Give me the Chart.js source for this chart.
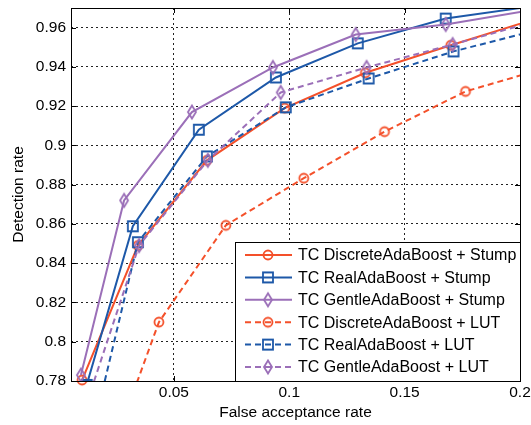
<!DOCTYPE html>
<html>
<head>
<meta charset="utf-8">
<script src="https://cdn.jsdelivr.net/npm/chart.js@4.4.0/dist/chart.umd.min.js"></script>
<style>
  html, body { margin: 0; padding: 0; background: #fff; }
</style>
</head>
<body>
<canvas id="roc" width="531" height="425"></canvas>
<script>
// --- DATA ---
const seriesNames = [
    'TC DiscreteAdaBoost + Stump',
    'TC RealAdaBoost + Stump',
    'TC GentleAdaBoost + Stump',
    'TC DiscreteAdaBoost + LUT',
    'TC RealAdaBoost + LUT',
    'TC GentleAdaBoost + LUT'
];

const discreteStumpX = [0.0102, 0.0344, 0.0643, 0.098, 0.133, 0.170, 0.205];
const discreteStumpY = [0.7805, 0.849, 0.8924, 0.919, 0.937, 0.951, 0.9638];

const realStumpX = [0.0122, 0.0322, 0.0608, 0.0942, 0.1297, 0.1678, 0.205];
const realStumpY = [0.778, 0.8588, 0.908, 0.9346, 0.952, 0.9646, 0.9708];

const gentleStumpX = [0.0097, 0.0284, 0.0578, 0.0929, 0.1288, 0.1678, 0.205];
const gentleStumpY = [0.783, 0.872, 0.917, 0.9397, 0.9565, 0.9616, 0.969];

const discreteLutX = [0.028, 0.0435, 0.0725, 0.1063, 0.1413, 0.1764, 0.205];
const discreteLutY = [0.76, 0.810, 0.8593, 0.8833, 0.907, 0.9275, 0.9373];

const realLutX = [0.018, 0.0344, 0.0643, 0.0985, 0.1344, 0.1712, 0.205];
const realLutY = [0.77, 0.8507, 0.8944, 0.9194, 0.9341, 0.9479, 0.958];

const gentleLutX = [0.014, 0.0349, 0.0647, 0.0963, 0.1335, 0.1708, 0.205];
const gentleLutY = [0.775, 0.849, 0.8924, 0.927, 0.9397, 0.9514, 0.9626];

const xTicks = [0.05, 0.1, 0.15, 0.2];
const yTicks = [0.78, 0.8, 0.82, 0.84, 0.86, 0.88, 0.9, 0.92, 0.94, 0.96];

// --- STYLE ---
const ORANGE = '#f4502a';
const BLUE = '#1d58a8';
const PURPLE = '#9b6fb8';
const FONT = { family: '"Liberation Sans", Arial, Helvetica, sans-serif', size: 15.5, lineHeight: 1.2 };
const LEGEND_FONT_SIZE = 16;

// hollow markers drawn once into small canvases (MATLAB style, no fill)
function makeMarker(shape, color) {
    const c = document.createElement('canvas');
    c.width = 16; c.height = 18;
    const g = c.getContext('2d');
    g.strokeStyle = color;
    g.lineWidth = 1.8;
    g.beginPath();
    if (shape === 'o') {
        g.arc(8, 9, 4.5, 0, Math.PI * 2);
    } else if (shape === 's') {
        g.rect(3, 4, 10, 10);
    } else {
        g.moveTo(8, 2.5); g.lineTo(12, 9); g.lineTo(8, 15.5); g.lineTo(4, 9); g.closePath();
    }
    g.stroke();
    return c;
}

const styles = [
    { color: ORANGE, marker: makeMarker('o', ORANGE), dash: [] },
    { color: BLUE, marker: makeMarker('s', BLUE), dash: [] },
    { color: PURPLE, marker: makeMarker('d', PURPLE), dash: [] },
    { color: ORANGE, marker: makeMarker('o', ORANGE), dash: [6, 4] },
    { color: BLUE, marker: makeMarker('s', BLUE), dash: [6, 4] },
    { color: PURPLE, marker: makeMarker('d', PURPLE), dash: [6, 4] }
];

const allX = [discreteStumpX, realStumpX, gentleStumpX, discreteLutX, realLutX, gentleLutX];
const allY = [discreteStumpY, realStumpY, gentleStumpY, discreteLutY, realLutY, gentleLutY];

const datasets = seriesNames.map((name, i) => ({
    label: name,
    data: allX[i].map((x, j) => ({ x: x, y: allY[i][j] })),
    borderColor: styles[i].color,
    borderWidth: 2,
    borderDash: styles[i].dash,
    pointStyle: styles[i].marker,
    pointRadius: 6,
    tension: 0,
    fill: false,
    // first series: its bottom marker sits on the axis and spills a little below it
    clip: i === 0 ? { left: 0, top: 0, right: 0, bottom: 6 } : 0,
    order: seriesNames.length - i   // later series on top, like MATLAB
}));

// box, inward ticks and the legend inside the axes
const matlabAxes = {
    id: 'matlabAxes',
    afterDatasetsDraw(chart) {
        const { ctx, chartArea: a, scales } = chart;
        ctx.save();
        ctx.strokeStyle = '#000';
        ctx.lineWidth = 1;
        ctx.setLineDash([]);
        ctx.beginPath();
        xTicks.forEach(v => {
            const px = Math.round(scales.x.getPixelForValue(v)) + 0.5;
            ctx.moveTo(px, a.bottom); ctx.lineTo(px, a.bottom - 5);
            ctx.moveTo(px, a.top); ctx.lineTo(px, a.top + 5);
        });
        yTicks.forEach(v => {
            const py = Math.round(scales.y.getPixelForValue(v)) + 0.5;
            ctx.moveTo(a.left, py); ctx.lineTo(a.left + 5, py);
            ctx.moveTo(a.right, py); ctx.lineTo(a.right - 5, py);
        });
        ctx.stroke();
        ctx.strokeRect(a.left + 0.5, a.top + 0.5, a.right - a.left, a.bottom - a.top);

        // legend
        const lx = 235, ly = 242;
        ctx.fillStyle = '#fff';
        ctx.fillRect(lx, ly, a.right - lx, a.bottom - ly);
        ctx.strokeRect(lx + 0.5, ly + 0.5, a.right - lx, a.bottom - ly);
        ctx.font = LEGEND_FONT_SIZE + 'px ' + FONT.family;
        ctx.textBaseline = 'middle';
        datasets.forEach((ds, i) => {
            const y = 255 + i * 22.4;
            ctx.strokeStyle = ds.borderColor;
            ctx.lineWidth = 2;
            ctx.setLineDash(ds.borderDash);
            ctx.beginPath();
            ctx.moveTo(245, y); ctx.lineTo(292, y);
            ctx.stroke();
            ctx.drawImage(styles[i].marker, 268 - 8, y - 9);
            ctx.fillStyle = '#000';
            ctx.fillText(ds.label, 298, y + 1);
        });
        ctx.restore();
    }
};

const tickFmt = v => String(Number(v.toFixed(2)));

new Chart(document.getElementById('roc').getContext('2d'), {
    type: 'line',
    data: { datasets: datasets },
    plugins: [matlabAxes],
    options: {
        responsive: false,
        animation: false,
        layout: { padding: { top: 7, right: 11, left: 0, bottom: 0 } },
        plugins: { legend: { display: false }, tooltip: { enabled: false } },
        scales: {
            x: {
                type: 'linear',
                min: 0.0054,
                max: 0.2,
                afterBuildTicks: s => { s.ticks = xTicks.map(v => ({ value: v })); },
                afterFit: s => { s.height = 44; s.paddingLeft = 0; s.paddingRight = 0; },
                ticks: { color: '#000', font: FONT, padding: 2, callback: tickFmt, maxRotation: 0 },
                grid: { color: '#222', lineWidth: 1, drawTicks: false },
                border: { display: false, dash: [2, 3] },
                title: { display: true, text: 'False acceptance rate', color: '#000', font: FONT, padding: { top: 0, bottom: 3 } }
            },
            y: {
                type: 'linear',
                min: 0.78,
                max: 0.97,
                afterBuildTicks: s => { s.ticks = yTicks.map(v => ({ value: v })); },
                afterFit: s => { s.width = 71; s.paddingTop = 0; s.paddingBottom = 0; },
                ticks: { color: '#000', font: FONT, padding: 5, callback: tickFmt },
                grid: { color: '#222', lineWidth: 1, drawTicks: false },
                border: { display: false, dash: [2, 3] },
                title: { display: true, text: 'Detection rate', color: '#000', font: FONT, padding: { top: 9, bottom: 0 } }
            }
        }
    }
});
</script>
</body>
</html>
